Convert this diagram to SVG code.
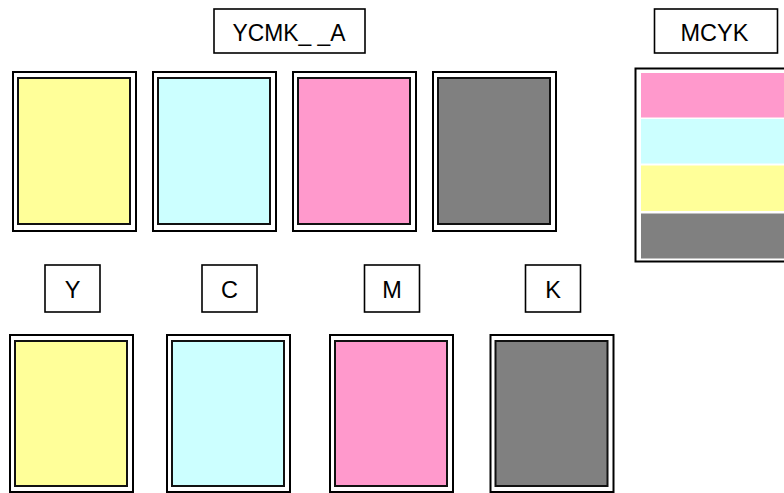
<svg xmlns="http://www.w3.org/2000/svg" width="784" height="493" viewBox="0 0 784 493">
<style>
.lbl{fill:#fff;stroke:#000;stroke-width:1.6}
.txt{font-family:"Liberation Sans",Arial,sans-serif;font-size:23.5px;fill:#000;text-anchor:middle}
.outer{fill:#fff;stroke:#000;stroke-width:2}
.inner{stroke:#111;stroke-width:2}
.y{fill:#FFFF99}.c{fill:#CCFFFF}.m{fill:#FF99CC}.k{fill:#808080}
</style>
<rect width="784" height="493" fill="#fff"/>
<g id="label-ycmka"><rect class="lbl" x="214" y="9" width="151" height="44"/><text class="txt" x="289" y="40.5" textLength="113" lengthAdjust="spacingAndGlyphs">YCMK_ _A</text></g>
<g id="label-mcyk"><rect class="lbl" x="654.5" y="9" width="123" height="44"/><text class="txt" x="714.5" y="40.5">MCYK</text></g>
<g id="top-y"><rect class="outer" x="13" y="72" width="123" height="159"/><rect class="inner y" x="18" y="78" width="112" height="146"/></g>
<g id="top-c"><rect class="outer" x="153" y="72" width="123" height="159"/><rect class="inner c" x="158" y="78" width="112" height="146"/></g>
<g id="top-m"><rect class="outer" x="293" y="72" width="123" height="159"/><rect class="inner m" x="298" y="78" width="112" height="146"/></g>
<g id="top-k"><rect class="outer" x="433" y="72" width="123" height="159"/><rect class="inner k" x="438" y="78" width="112" height="146"/></g>
<g id="mcyk-panel">
<rect class="outer" x="635.5" y="68.5" width="160" height="193"/>
<rect class="m" x="641" y="73" width="150" height="44.5"/>
<rect class="c" x="641" y="119" width="150" height="44.5"/>
<rect class="y" x="641" y="165.5" width="150" height="45.5"/>
<rect class="k" x="641" y="213.5" width="150" height="45"/>
</g>
<g id="label-y"><rect class="lbl" x="45" y="265" width="55" height="47"/><text class="txt" x="72.5" y="297.5">Y</text></g>
<g id="label-c"><rect class="lbl" x="202" y="265" width="55" height="47"/><text class="txt" x="229.5" y="297.5">C</text></g>
<g id="label-m"><rect class="lbl" x="364.5" y="265" width="55" height="47"/><text class="txt" x="392" y="297.5">M</text></g>
<g id="label-k"><rect class="lbl" x="525.5" y="265" width="55" height="47"/><text class="txt" x="553" y="297.5">K</text></g>
<g id="bot-y"><rect class="outer" x="10" y="335" width="123" height="157"/><rect class="inner y" x="15" y="341" width="112" height="145"/></g>
<g id="bot-c"><rect class="outer" x="167" y="335" width="123" height="157"/><rect class="inner c" x="172" y="341" width="112" height="145"/></g>
<g id="bot-m"><rect class="outer" x="330" y="335" width="123" height="157"/><rect class="inner m" x="335" y="341" width="112" height="145"/></g>
<g id="bot-k"><rect class="outer" x="490.5" y="335" width="123" height="157"/><rect class="inner k" x="495.5" y="341" width="112" height="145"/></g>
<g id="connectors"/>
</svg>
